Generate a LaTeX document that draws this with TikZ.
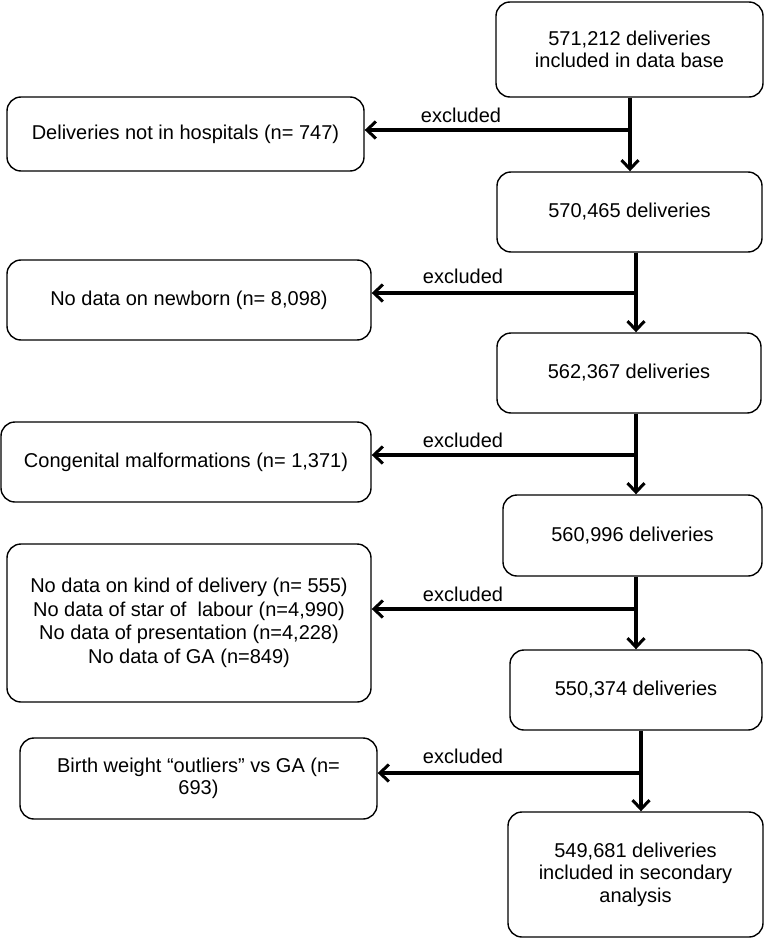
\documentclass[tikz,border=0pt]{standalone}
\usepackage{fontspec}
\setmainfont{Liberation Sans}
\usetikzlibrary{arrows.meta}
\begin{document}
\begin{tikzpicture}[x=1pt,y=-1pt,
  box/.style={draw, line width=1.4pt, rounded corners=14pt, align=center,
    font=\fontsize{20}{22.5}\selectfont, inner sep=0pt},
  trunk/.style={line width=4pt},
  flow/.style={line width=4pt, -{Straight Barb[length=9pt,width=17pt,line width=3pt]}},
  lbl/.style={font=\fontsize{20}{22.5}\selectfont, inner sep=0pt}]
\useasboundingbox (0,0) rectangle (769,939);

% main column
\node[box, minimum width=267pt, minimum height=95pt] (A) at (629.5,49.5) {571,212 deliveries\\included in data base};
\node[box, minimum width=265pt, minimum height=80pt] (C) at (629.5,212) {570,465 deliveries};
\node[box, minimum width=264pt, minimum height=80pt] (E) at (629,373) {562,367 deliveries};
\node[box, minimum width=259pt, minimum height=81pt] (F) at (632.5,535.5) {560,996 deliveries};
\node[box, minimum width=252pt, minimum height=80pt] (G) at (636,690) {550,374 deliveries};
\node[box, minimum width=255pt, minimum height=125pt] (I) at (635.5,874.5) {549,681 deliveries\\included in secondary\\analysis};

% excluded boxes
\node[box, minimum width=357pt, minimum height=74pt] (B) at (185.5,134) {Deliveries not in hospitals (n= 747)};
\node[box, minimum width=364pt, minimum height=80pt] (D) at (189,300) {No data on newborn (n= 8,098)};
\node[box, minimum width=370pt, minimum height=80pt] (K) at (186,462) {Congenital malformations (n= 1,371)};
\node[box, minimum width=364pt, minimum height=158pt, font=\fontsize{20}{23.5}\selectfont] (M) at (189,623)
  {No data on kind of delivery (n= 555)\\No data of star of\ \ labour (n=4,990)\\No data of presentation (n=4,228)\\No data of GA (n=849)};
\node[box, minimum width=357pt, minimum height=81pt] (H) at (198.5,778.5) {Birth weight “outliers” vs GA (n=\\693)};

% junctions
\coordinate (j1) at (630,130);
\coordinate (j2) at (636,293);
\coordinate (j3) at (636,455);
\coordinate (j4) at (636,609);
\coordinate (j5) at (641,773);

\draw[flow] (j1 |- A.south) -- (j1 |- C.north);
\draw[flow] (j1) -- (j1 -| B.east);
\draw[flow] (j2 |- C.south) -- (j2 |- E.north);
\draw[flow] (j2) -- (j2 -| D.east);
\draw[flow] (j3 |- E.south) -- (j3 |- F.north);
\draw[flow] (j3) -- (j3 -| K.east);
\draw[flow] (j4 |- F.south) -- (j4 |- G.north);
\draw[flow] (j4) -- (j4 -| M.east);
\draw[flow] (j5 |- G.south) -- (j5 |- I.north);
\draw[flow] (j5) -- (j5 -| H.east);

% labels
\node[lbl] (l1) at (461,115) {excluded};
\node[lbl] (l2) at (463,276) {excluded};
\node[lbl] (l3) at (463,440) {excluded};
\node[lbl] (l4) at (463,594) {excluded};
\node[lbl] (l5) at (463,756) {excluded};
\end{tikzpicture}
\end{document}
